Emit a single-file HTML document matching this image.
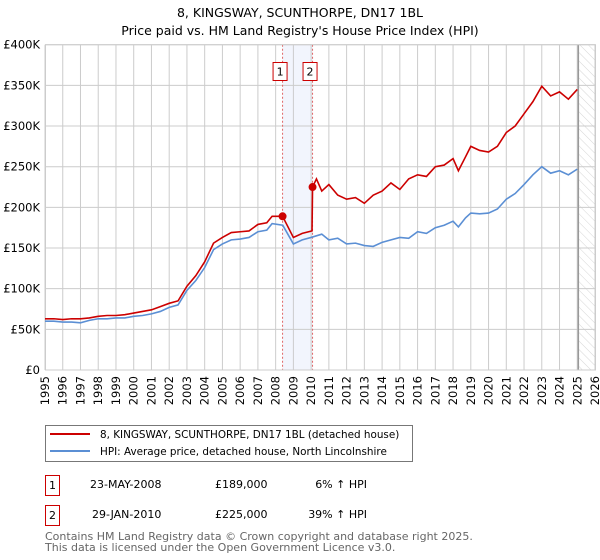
<!DOCTYPE html>
<html><head><meta charset="utf-8"><style>
body{margin:0;background:#fff;width:600px;height:560px;overflow:hidden}
svg{display:block;font-family:"DejaVu Sans","Liberation Sans",sans-serif}
</style></head><body>
<svg id="c" width="600" height="560" viewBox="0 0 600 560">
<defs><pattern id="hatch" width="6" height="6" patternUnits="userSpaceOnUse" patternTransform="rotate(-45)"><line x1="0" y1="0" x2="0" y2="6" stroke="#ccc" stroke-width="0.8"/></pattern></defs>
<text x="300" y="17" text-anchor="middle" font-size="12.5">8, KINGSWAY, SCUNTHORPE, DN17 1BL</text>
<text x="300" y="35" text-anchor="middle" font-size="12.5">Price paid vs. HM Land Registry's House Price Index (HPI)</text>
<g id="plot"></g>
<g>
<rect x="45.5" y="425.5" width="367" height="36" fill="#fff" stroke="#777"/>
<line x1="50" y1="434" x2="90" y2="434" stroke="#cc0000" stroke-width="2"/>
<text x="100" y="438" font-size="10.4">8, KINGSWAY, SCUNTHORPE, DN17 1BL (detached house)</text>
<line x1="50" y1="451" x2="90" y2="451" stroke="#5b8fd4" stroke-width="2"/>
<text x="100" y="455" font-size="10.4">HPI: Average price, detached house, North Lincolnshire</text>
</g>
<g font-size="11">
<rect x="45.5" y="475.5" width="14" height="20" fill="#fff" stroke="#cc0000"/><text x="52.5" y="489" text-anchor="middle">1</text>
<text x="90" y="488">23-MAY-2008</text><text x="215" y="488">£189,000</text><text x="367" y="488" text-anchor="end">6% ↑ HPI</text>
<rect x="45.5" y="505.5" width="14" height="20" fill="#fff" stroke="#cc0000"/><text x="52.5" y="519" text-anchor="middle">2</text>
<text x="92" y="518">29-JAN-2010</text><text x="215" y="518">£225,000</text><text x="367" y="518" text-anchor="end">39% ↑ HPI</text>
</g>
<text x="45" y="540" font-size="11" fill="#666">Contains HM Land Registry data © Crown copyright and database right 2025.</text>
<text x="45" y="551" font-size="11" fill="#666">This data is licensed under the Open Government Licence v3.0.</text>
</svg>
<script>
const yTicks=[0,50,100,150,200,250,300,350,400];
const yTickLabels=["£0","£50K","£100K","£150K","£200K","£250K","£300K","£350K","£400K"];
const xYears=[1995,1996,1997,1998,1999,2000,2001,2002,2003,2004,2005,2006,2007,2008,2009,2010,2011,2012,2013,2014,2015,2016,2017,2018,2019,2020,2021,2022,2023,2024,2025,2026];
const hpiT=[1995,1995.5,1996,1996.5,1997,1997.5,1998,1998.5,1999,1999.5,2000,2000.5,2001,2001.5,2002,2002.5,2003,2003.5,2004,2004.5,2005,2005.5,2006,2006.5,2007,2007.5,2007.8,2008.4,2009,2009.5,2010,2010.6,2011,2011.5,2012,2012.5,2013,2013.5,2014,2014.5,2015,2015.5,2016,2016.5,2017,2017.5,2018,2018.3,2018.7,2019,2019.5,2020,2020.5,2021,2021.5,2022,2022.5,2023,2023.5,2024,2024.5,2025];
const hpiV=[60,60,59,59,58,61,63,63,64,64,66,67,69,72,77,80,98,110,126,148,155,160,161,163,170,172,180,178,155,160,163,167,160,162,155,156,153,152,157,160,163,162,170,168,175,178,183,176,187,193,192,193,198,210,217,228,240,250,242,245,240,247];
const redT=[1995,1995.5,1996,1996.5,1997,1997.5,1998,1998.5,1999,1999.5,2000,2000.5,2001,2001.5,2002,2002.5,2003,2003.5,2004,2004.5,2005,2005.5,2006,2006.5,2007,2007.5,2007.8,2008.39,2009,2009.5,2010.05,2010.08,2010.3,2010.6,2011,2011.5,2012,2012.5,2013,2013.5,2014,2014.5,2015,2015.5,2016,2016.5,2017,2017.5,2018,2018.3,2018.7,2019,2019.5,2020,2020.5,2021,2021.5,2022,2022.5,2023,2023.5,2024,2024.5,2025];
const redV=[63,63,62,63,63,64,66,67,67,68,70,72,74,78,82,85,103,116,133,156,163,169,170,171,179,181,189,189,163,168,171,225,235,220,228,215,210,212,205,215,220,230,222,235,240,238,250,252,260,245,262,275,270,268,275,292,300,315,330,349,337,342,333,345];
const sales=[{t:2008.39,v:189,n:"1"},{t:2010.08,v:225,n:"2"}];
const X0=45,X1=595,Y0=370,Y1=44.7;
const xs=t=>X0+(t-1995)/(2026-1995)*(X1-X0);
const ys=v=>Y0-v/400*(Y0-Y1);
const NS="http://www.w3.org/2000/svg";
const g=document.getElementById('plot');
function mk(tag,a,p){const e=document.createElementNS(NS,tag);for(const k in a)e.setAttribute(k,a[k]);(p||g).appendChild(e);return e;}
const shade=mk('rect',{x:xs(sales[0].t),y:Y1,width:xs(sales[1].t)-xs(sales[0].t),height:Y0-Y1,fill:'#f2f5fd'});


const fut=mk('rect',{x:xs(2025.06),y:Y1,width:X1-xs(2025.06),height:Y0-Y1,fill:'url(#hatch)'});


yTicks.forEach((v,i)=>{
 const l=mk('line',{x1:X0,x2:X1,y1:ys(v),y2:ys(v),stroke:'#ccc'});
 
 
 const t=mk('text',{x:X0-5,y:ys(v)+4,'text-anchor':'end','font-size':'11.5'});t.textContent=yTickLabels[i];
 
 
});
xYears.forEach(y=>{
 const l=mk('line',{x1:xs(y),x2:xs(y),y1:Y1,y2:Y0,stroke:'#ccc'});
 
 
 const t=mk('text',{x:0,y:0,'font-size':'11.5','text-anchor':'end',transform:`translate(${xs(y)+4},${Y0+6}) rotate(-90)`});t.textContent=y;
 
 
});
const fl=mk('line',{x1:xs(2025.06),x2:xs(2025.06),y1:Y1,y2:Y0,stroke:'#999','stroke-width':1.5});


sales.forEach(s=>{
 const l=mk('line',{x1:xs(s.t),x2:xs(s.t),y1:Y1,y2:Y0,stroke:'#e06666','stroke-dasharray':'2,2'});
 
 
 const b=mk('rect',{x:xs(s.t)-9.5,y:62.5,width:14,height:18,fill:'#fff',stroke:'#cc0000'});
 
 
 const t=mk('text',{x:xs(s.t)-2.5,y:75.5,'text-anchor':'middle','font-size':'11'});t.textContent=s.n;
 
 
});
const bx=mk('rect',{x:X0+0.5,y:Y1,width:X1-X0,height:Y0-Y1,fill:'none',stroke:'#ccc'});


const hp=mk('polyline',{points:hpiT.map((t,i)=>xs(t)+','+ys(hpiV[i])).join(' '),fill:'none',stroke:'#5b8fd4','stroke-width':1.6});


const rp=mk('polyline',{points:redT.map((t,i)=>xs(t)+','+ys(redV[i])).join(' '),fill:'none',stroke:'#cc0000','stroke-width':1.6});


sales.forEach(s=>{
 const c=mk('circle',{cx:xs(s.t),cy:ys(s.v),r:4,fill:'#cc0000'});
 
 
});
</script>
</body></html>
